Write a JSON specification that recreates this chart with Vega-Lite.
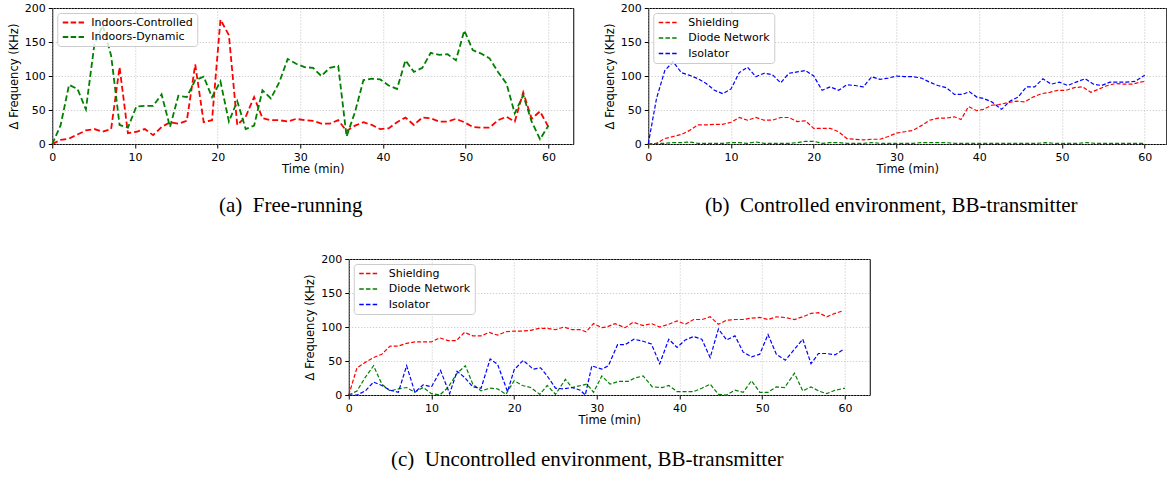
{
  "$schema": "https://vega.github.io/schema/vega-lite/v6.json",
  "padding": {"left": 7, "top": 1, "right": 0, "bottom": 0},
  "background": "white",
  "spacing": 36,
  "center": true,
  "resolve": {"scale": {"color": "independent", "x": "independent", "y": "independent"}, "legend": {"color": "independent"}},
  "config": {
    "view": {"stroke": "black", "strokeWidth": 1},
    "font": "DejaVu Sans",
    "axis": {
      "labelFont": "DejaVu Sans", "labelFontSize": 11, "labelColor": "black",
      "titleFont": "DejaVu Sans", "titleFontSize": 11.5, "titleFontWeight": "normal", "titleColor": "black",
      "tickColor": "black", "tickSize": 4, "labelPadding": 3, "domain": false,
      "gridColor": "#b0b0b0", "gridDash": [1, 2], "gridWidth": 0.8, "labelFlush": false
    },
    "axisX": {"titlePadding": 1},
    "axisY": {"titlePadding": 5},
    "legend": {
      "orient": "top-left", "offset": 5, "padding": 4, "strokeColor": "#cccccc",
      "fillColor": "rgba(255,255,255,0.8)", "cornerRadius": 3,
      "labelFont": "DejaVu Sans", "labelFontSize": 11, "labelColor": "black",
      "symbolType": "M-1,0H4", "symbolSize": 64, "labelOffset": 20, "rowPadding": 3.5
    },
    "title": {"font": "Liberation Serif", "fontSize": 21, "fontWeight": "normal", "color": "black", "orient": "bottom", "anchor": "middle", "frame": "bounds", "offset": 20}
  },
  "vconcat": [
    {
      "hconcat": [
        {
          "width": 521, "height": 136,
          "title": {"text": "(a)\u2002Free-running"},
          "data": {"values": [
            {"t":0,"v":0,"s":"Indoors-Controlled"},{"t":1.02,"v":6,"s":"Indoors-Controlled"},{"t":2.03,"v":8,"s":"Indoors-Controlled"},{"t":3.05,"v":14,"s":"Indoors-Controlled"},{"t":4.07,"v":20,"s":"Indoors-Controlled"},{"t":5.08,"v":22,"s":"Indoors-Controlled"},{"t":6.1,"v":18,"s":"Indoors-Controlled"},{"t":7.12,"v":22,"s":"Indoors-Controlled"},{"t":8.14,"v":113,"s":"Indoors-Controlled"},{"t":9.15,"v":16,"s":"Indoors-Controlled"},
            {"t":10.17,"v":18,"s":"Indoors-Controlled"},{"t":11.19,"v":22,"s":"Indoors-Controlled"},{"t":12.2,"v":13,"s":"Indoors-Controlled"},{"t":13.22,"v":25,"s":"Indoors-Controlled"},{"t":14.24,"v":32,"s":"Indoors-Controlled"},{"t":15.25,"v":30,"s":"Indoors-Controlled"},{"t":16.27,"v":34,"s":"Indoors-Controlled"},{"t":17.29,"v":117,"s":"Indoors-Controlled"},{"t":18.31,"v":32,"s":"Indoors-Controlled"},{"t":19.32,"v":35,"s":"Indoors-Controlled"},
            {"t":20.34,"v":183,"s":"Indoors-Controlled"},{"t":21.36,"v":160,"s":"Indoors-Controlled"},{"t":22.37,"v":28,"s":"Indoors-Controlled"},{"t":23.39,"v":40,"s":"Indoors-Controlled"},{"t":24.41,"v":69,"s":"Indoors-Controlled"},{"t":25.42,"v":38,"s":"Indoors-Controlled"},{"t":26.44,"v":35,"s":"Indoors-Controlled"},{"t":27.46,"v":35,"s":"Indoors-Controlled"},{"t":28.47,"v":33,"s":"Indoors-Controlled"},{"t":29.49,"v":37,"s":"Indoors-Controlled"},
            {"t":30.51,"v":35,"s":"Indoors-Controlled"},{"t":31.53,"v":34,"s":"Indoors-Controlled"},{"t":32.54,"v":30,"s":"Indoors-Controlled"},{"t":33.56,"v":30,"s":"Indoors-Controlled"},{"t":34.58,"v":35,"s":"Indoors-Controlled"},{"t":35.59,"v":19,"s":"Indoors-Controlled"},{"t":36.61,"v":27,"s":"Indoors-Controlled"},{"t":37.63,"v":32,"s":"Indoors-Controlled"},{"t":38.64,"v":28,"s":"Indoors-Controlled"},{"t":39.66,"v":22,"s":"Indoors-Controlled"},
            {"t":40.68,"v":23,"s":"Indoors-Controlled"},{"t":41.69,"v":32,"s":"Indoors-Controlled"},{"t":42.71,"v":39,"s":"Indoors-Controlled"},{"t":43.73,"v":28,"s":"Indoors-Controlled"},{"t":44.75,"v":39,"s":"Indoors-Controlled"},{"t":45.76,"v":38,"s":"Indoors-Controlled"},{"t":46.78,"v":33,"s":"Indoors-Controlled"},{"t":47.8,"v":33,"s":"Indoors-Controlled"},{"t":48.81,"v":37,"s":"Indoors-Controlled"},{"t":49.83,"v":32,"s":"Indoors-Controlled"},
            {"t":50.85,"v":25,"s":"Indoors-Controlled"},{"t":51.86,"v":24,"s":"Indoors-Controlled"},{"t":52.88,"v":24,"s":"Indoors-Controlled"},{"t":53.9,"v":35,"s":"Indoors-Controlled"},{"t":54.92,"v":40,"s":"Indoors-Controlled"},{"t":55.93,"v":33,"s":"Indoors-Controlled"},{"t":56.95,"v":76,"s":"Indoors-Controlled"},{"t":57.97,"v":37,"s":"Indoors-Controlled"},{"t":58.98,"v":48,"s":"Indoors-Controlled"},{"t":60,"v":25,"s":"Indoors-Controlled"},
            {"t":0,"v":0,"s":"Indoors-Dynamic"},{"t":1.02,"v":28,"s":"Indoors-Dynamic"},{"t":2.03,"v":87,"s":"Indoors-Dynamic"},{"t":3.05,"v":81,"s":"Indoors-Dynamic"},{"t":4.07,"v":51,"s":"Indoors-Dynamic"},{"t":5.08,"v":145,"s":"Indoors-Dynamic"},{"t":6.1,"v":175,"s":"Indoors-Dynamic"},{"t":7.12,"v":130,"s":"Indoors-Dynamic"},{"t":8.14,"v":28,"s":"Indoors-Dynamic"},{"t":9.15,"v":24,"s":"Indoors-Dynamic"},
            {"t":10.17,"v":55,"s":"Indoors-Dynamic"},{"t":11.19,"v":56,"s":"Indoors-Dynamic"},{"t":12.2,"v":56,"s":"Indoors-Dynamic"},{"t":13.22,"v":73,"s":"Indoors-Dynamic"},{"t":14.24,"v":25,"s":"Indoors-Dynamic"},{"t":15.25,"v":71,"s":"Indoors-Dynamic"},{"t":16.27,"v":69,"s":"Indoors-Dynamic"},{"t":17.29,"v":94,"s":"Indoors-Dynamic"},{"t":18.31,"v":99,"s":"Indoors-Dynamic"},{"t":19.32,"v":69,"s":"Indoors-Dynamic"},
            {"t":20.34,"v":92,"s":"Indoors-Dynamic"},{"t":21.36,"v":33,"s":"Indoors-Dynamic"},{"t":22.37,"v":63,"s":"Indoors-Dynamic"},{"t":23.39,"v":22,"s":"Indoors-Dynamic"},{"t":24.41,"v":27,"s":"Indoors-Dynamic"},{"t":25.42,"v":79,"s":"Indoors-Dynamic"},{"t":26.44,"v":67,"s":"Indoors-Dynamic"},{"t":27.46,"v":91,"s":"Indoors-Dynamic"},{"t":28.47,"v":125,"s":"Indoors-Dynamic"},{"t":29.49,"v":118,"s":"Indoors-Dynamic"},
            {"t":30.51,"v":113,"s":"Indoors-Dynamic"},{"t":31.53,"v":112,"s":"Indoors-Dynamic"},{"t":32.54,"v":100,"s":"Indoors-Dynamic"},{"t":33.56,"v":112,"s":"Indoors-Dynamic"},{"t":34.58,"v":115,"s":"Indoors-Dynamic"},{"t":35.59,"v":11,"s":"Indoors-Dynamic"},{"t":36.61,"v":47,"s":"Indoors-Dynamic"},{"t":37.63,"v":94,"s":"Indoors-Dynamic"},{"t":38.64,"v":96,"s":"Indoors-Dynamic"},{"t":39.66,"v":95,"s":"Indoors-Dynamic"},
            {"t":40.68,"v":86,"s":"Indoors-Dynamic"},{"t":41.69,"v":81,"s":"Indoors-Dynamic"},{"t":42.71,"v":123,"s":"Indoors-Dynamic"},{"t":43.73,"v":106,"s":"Indoors-Dynamic"},{"t":44.75,"v":112,"s":"Indoors-Dynamic"},{"t":45.76,"v":134,"s":"Indoors-Dynamic"},{"t":46.78,"v":131,"s":"Indoors-Dynamic"},{"t":47.8,"v":132,"s":"Indoors-Dynamic"},{"t":48.81,"v":123,"s":"Indoors-Dynamic"},{"t":49.83,"v":167,"s":"Indoors-Dynamic"},
            {"t":50.85,"v":138,"s":"Indoors-Dynamic"},{"t":51.86,"v":133,"s":"Indoors-Dynamic"},{"t":52.88,"v":126,"s":"Indoors-Dynamic"},{"t":53.9,"v":106,"s":"Indoors-Dynamic"},{"t":54.92,"v":89,"s":"Indoors-Dynamic"},{"t":55.93,"v":45,"s":"Indoors-Dynamic"},{"t":56.95,"v":72,"s":"Indoors-Dynamic"},{"t":57.97,"v":33,"s":"Indoors-Dynamic"},{"t":58.98,"v":7,"s":"Indoors-Dynamic"},{"t":60,"v":27,"s":"Indoors-Dynamic"}
          ]},
          "mark": {"type": "line", "strokeWidth": 1.8, "strokeDash": [6, 3]},
          "encoding": {
            "x": {"field": "t", "type": "quantitative", "scale": {"domain": [0, 63], "nice": false, "zero": false}, "axis": {"title": "Time (min)", "values": [0, 10, 20, 30, 40, 50, 60]}},
            "y": {"field": "v", "type": "quantitative", "scale": {"domain": [0, 200], "nice": false}, "axis": {"title": "Δ Frequency (KHz)", "values": [0, 50, 100, 150, 200]}},
            "color": {"field": "s", "type": "nominal", "scale": {"domain": ["Indoors-Controlled", "Indoors-Dynamic"], "range": ["red", "green"]}, "legend": {"title": null, "symbolDash": [5.5, 2.4], "symbolStrokeWidth": 1.8, "symbolType": "M-1,0H4.5", "labelOffset": 19, "rowPadding": 2.5}}
          }
        },
        {
          "width": 518, "height": 136,
          "title": {"text": "(b)\u2002Controlled environment, BB-transmitter", "dx": 6},
          "data": {"values": [
            {"t":0,"v":0,"s":"Shielding"},{"t":1,"v":1,"s":"Shielding"},{"t":2,"v":8,"s":"Shielding"},{"t":3,"v":11,"s":"Shielding"},{"t":4,"v":14,"s":"Shielding"},{"t":5,"v":20,"s":"Shielding"},{"t":6,"v":28,"s":"Shielding"},{"t":7,"v":28,"s":"Shielding"},{"t":8,"v":29,"s":"Shielding"},{"t":9,"v":29,"s":"Shielding"},
            {"t":10,"v":32,"s":"Shielding"},{"t":11,"v":39,"s":"Shielding"},{"t":12,"v":35,"s":"Shielding"},{"t":13,"v":39,"s":"Shielding"},{"t":14,"v":35,"s":"Shielding"},{"t":15,"v":35,"s":"Shielding"},{"t":16,"v":39,"s":"Shielding"},{"t":17,"v":39,"s":"Shielding"},{"t":18,"v":33,"s":"Shielding"},{"t":19,"v":34,"s":"Shielding"},
            {"t":20,"v":23,"s":"Shielding"},{"t":21,"v":23,"s":"Shielding"},{"t":22,"v":23,"s":"Shielding"},{"t":23,"v":18,"s":"Shielding"},{"t":24,"v":8,"s":"Shielding"},{"t":25,"v":7,"s":"Shielding"},{"t":26,"v":6,"s":"Shielding"},{"t":27,"v":7,"s":"Shielding"},{"t":28,"v":7,"s":"Shielding"},{"t":29,"v":11,"s":"Shielding"},
            {"t":30,"v":16,"s":"Shielding"},{"t":31,"v":18,"s":"Shielding"},{"t":32,"v":20,"s":"Shielding"},{"t":33,"v":27,"s":"Shielding"},{"t":34,"v":35,"s":"Shielding"},{"t":35,"v":38,"s":"Shielding"},{"t":36,"v":38,"s":"Shielding"},{"t":37,"v":40,"s":"Shielding"},{"t":37.8,"v":36,"s":"Shielding"},{"t":38.7,"v":55,"s":"Shielding"},
            {"t":39.7,"v":49,"s":"Shielding"},{"t":40.5,"v":51,"s":"Shielding"},{"t":41.5,"v":57,"s":"Shielding"},{"t":42.4,"v":58,"s":"Shielding"},{"t":43.5,"v":61,"s":"Shielding"},{"t":44.5,"v":63,"s":"Shielding"},{"t":45.5,"v":62,"s":"Shielding"},{"t":46.5,"v":69,"s":"Shielding"},{"t":47.5,"v":74,"s":"Shielding"},{"t":48.5,"v":76,"s":"Shielding"},
            {"t":49.5,"v":79,"s":"Shielding"},{"t":50.5,"v":79,"s":"Shielding"},{"t":51.5,"v":83,"s":"Shielding"},{"t":52.5,"v":84,"s":"Shielding"},{"t":53.5,"v":76,"s":"Shielding"},{"t":54.5,"v":81,"s":"Shielding"},{"t":55.5,"v":86,"s":"Shielding"},{"t":56.5,"v":89,"s":"Shielding"},{"t":57.5,"v":88,"s":"Shielding"},{"t":58.5,"v":88,"s":"Shielding"},{"t":59.5,"v":91,"s":"Shielding"},{"t":60,"v":92,"s":"Shielding"},
            {"t":0,"v":0,"s":"Diode Network"},{"t":1,"v":1,"s":"Diode Network"},{"t":2,"v":1,"s":"Diode Network"},{"t":3,"v":2,"s":"Diode Network"},{"t":4,"v":2,"s":"Diode Network"},{"t":5,"v":3,"s":"Diode Network"},{"t":6,"v":1,"s":"Diode Network"},{"t":7,"v":1,"s":"Diode Network"},{"t":8,"v":1,"s":"Diode Network"},{"t":9,"v":1,"s":"Diode Network"},
            {"t":10,"v":2,"s":"Diode Network"},{"t":11,"v":2,"s":"Diode Network"},{"t":12,"v":1,"s":"Diode Network"},{"t":13,"v":3,"s":"Diode Network"},{"t":14,"v":1,"s":"Diode Network"},{"t":15,"v":1,"s":"Diode Network"},{"t":16,"v":1,"s":"Diode Network"},{"t":17,"v":1,"s":"Diode Network"},{"t":18,"v":2,"s":"Diode Network"},{"t":19,"v":4,"s":"Diode Network"},
            {"t":20,"v":4,"s":"Diode Network"},{"t":21,"v":1,"s":"Diode Network"},{"t":22,"v":2,"s":"Diode Network"},{"t":23,"v":2,"s":"Diode Network"},{"t":24,"v":1,"s":"Diode Network"},{"t":25,"v":1,"s":"Diode Network"},{"t":26,"v":1,"s":"Diode Network"},{"t":27,"v":2,"s":"Diode Network"},{"t":28,"v":1,"s":"Diode Network"},{"t":29,"v":1,"s":"Diode Network"},
            {"t":30,"v":1,"s":"Diode Network"},{"t":31,"v":1,"s":"Diode Network"},{"t":32,"v":1,"s":"Diode Network"},{"t":33,"v":2,"s":"Diode Network"},{"t":34,"v":2,"s":"Diode Network"},{"t":35,"v":2,"s":"Diode Network"},{"t":36,"v":2,"s":"Diode Network"},{"t":37,"v":1,"s":"Diode Network"},{"t":38,"v":1,"s":"Diode Network"},{"t":39,"v":1,"s":"Diode Network"},
            {"t":40,"v":1,"s":"Diode Network"},{"t":41,"v":1,"s":"Diode Network"},{"t":42,"v":1,"s":"Diode Network"},{"t":43,"v":1,"s":"Diode Network"},{"t":44,"v":1,"s":"Diode Network"},{"t":45,"v":1,"s":"Diode Network"},{"t":46,"v":1,"s":"Diode Network"},{"t":47,"v":1,"s":"Diode Network"},{"t":48,"v":2,"s":"Diode Network"},{"t":49,"v":1,"s":"Diode Network"},
            {"t":50,"v":1,"s":"Diode Network"},{"t":51,"v":1,"s":"Diode Network"},{"t":52,"v":1,"s":"Diode Network"},{"t":53,"v":2,"s":"Diode Network"},{"t":54,"v":1,"s":"Diode Network"},{"t":55,"v":1,"s":"Diode Network"},{"t":56,"v":1,"s":"Diode Network"},{"t":57,"v":1,"s":"Diode Network"},{"t":58,"v":1,"s":"Diode Network"},{"t":59,"v":1,"s":"Diode Network"},{"t":60,"v":1,"s":"Diode Network"},
            {"t":0,"v":0,"s":"Isolator"},{"t":1,"v":67,"s":"Isolator"},{"t":2,"v":108,"s":"Isolator"},{"t":3,"v":121,"s":"Isolator"},{"t":4,"v":105,"s":"Isolator"},{"t":5,"v":101,"s":"Isolator"},{"t":6,"v":96,"s":"Isolator"},{"t":7,"v":89,"s":"Isolator"},{"t":8,"v":79,"s":"Isolator"},{"t":9,"v":74,"s":"Isolator"},
            {"t":10,"v":81,"s":"Isolator"},{"t":11,"v":105,"s":"Isolator"},{"t":12,"v":113,"s":"Isolator"},{"t":13,"v":99,"s":"Isolator"},{"t":14,"v":104,"s":"Isolator"},{"t":15,"v":102,"s":"Isolator"},{"t":16,"v":90,"s":"Isolator"},{"t":17,"v":104,"s":"Isolator"},{"t":18,"v":106,"s":"Isolator"},{"t":19,"v":108,"s":"Isolator"},
            {"t":20,"v":100,"s":"Isolator"},{"t":21,"v":79,"s":"Isolator"},{"t":22,"v":84,"s":"Isolator"},{"t":23,"v":79,"s":"Isolator"},{"t":24,"v":87,"s":"Isolator"},{"t":25,"v":86,"s":"Isolator"},{"t":26,"v":84,"s":"Isolator"},{"t":27,"v":99,"s":"Isolator"},{"t":28,"v":95,"s":"Isolator"},{"t":29,"v":97,"s":"Isolator"},
            {"t":30,"v":100,"s":"Isolator"},{"t":31,"v":99,"s":"Isolator"},{"t":32,"v":99,"s":"Isolator"},{"t":33,"v":97,"s":"Isolator"},{"t":34,"v":91,"s":"Isolator"},{"t":35,"v":86,"s":"Isolator"},{"t":36,"v":83,"s":"Isolator"},{"t":37,"v":73,"s":"Isolator"},{"t":38,"v":73,"s":"Isolator"},{"t":38.8,"v":77,"s":"Isolator"},
            {"t":39.7,"v":69,"s":"Isolator"},{"t":40.5,"v":67,"s":"Isolator"},{"t":41.5,"v":62,"s":"Isolator"},{"t":42.7,"v":51,"s":"Isolator"},{"t":43.7,"v":63,"s":"Isolator"},{"t":44.7,"v":69,"s":"Isolator"},{"t":45.7,"v":84,"s":"Isolator"},{"t":46.7,"v":84,"s":"Isolator"},{"t":47.7,"v":96,"s":"Isolator"},{"t":48.7,"v":88,"s":"Isolator"},
            {"t":49.7,"v":91,"s":"Isolator"},{"t":50.7,"v":86,"s":"Isolator"},{"t":51.7,"v":91,"s":"Isolator"},{"t":52.8,"v":96,"s":"Isolator"},{"t":53.8,"v":88,"s":"Isolator"},{"t":54.8,"v":86,"s":"Isolator"},{"t":55.8,"v":91,"s":"Isolator"},{"t":56.8,"v":91,"s":"Isolator"},{"t":57.8,"v":91,"s":"Isolator"},{"t":58.8,"v":92,"s":"Isolator"},{"t":60,"v":101,"s":"Isolator"}
          ]},
          "mark": {"type": "line", "strokeWidth": 1.2, "strokeDash": [4, 2]},
          "encoding": {
            "x": {"field": "t", "type": "quantitative", "scale": {"domain": [0, 62.6], "nice": false, "zero": false}, "axis": {"title": "Time (min)", "values": [0, 10, 20, 30, 40, 50, 60]}},
            "y": {"field": "v", "type": "quantitative", "scale": {"domain": [0, 200], "nice": false}, "axis": {"title": "Δ Frequency (KHz)", "values": [0, 50, 100, 150, 200]}},
            "color": {"field": "s", "type": "nominal", "scale": {"domain": ["Shielding", "Diode Network", "Isolator"], "range": ["red", "green", "blue"]}, "legend": {"title": null, "symbolDash": [4.5, 2.2], "symbolStrokeWidth": 1.3}}
          }
        }
      ],
      "spacing": 29,
      "resolve": {"scale": {"color": "independent", "x": "independent", "y": "independent"}, "legend": {"color": "independent"}}
    },
    {
      "width": 521, "height": 136,
      "title": {"text": "(c)\u2002Uncontrolled environment, BB-transmitter", "offset": 23},
      "data": {"values": [
        {"t":0,"v":0,"s":"Shielding"},{"t":1,"v":40,"s":"Shielding"},{"t":2,"v":48,"s":"Shielding"},{"t":3,"v":55,"s":"Shielding"},{"t":4,"v":60,"s":"Shielding"},{"t":5,"v":72,"s":"Shielding"},{"t":6,"v":72,"s":"Shielding"},{"t":7,"v":76,"s":"Shielding"},{"t":8,"v":78,"s":"Shielding"},{"t":9,"v":78,"s":"Shielding"},
        {"t":10,"v":78,"s":"Shielding"},{"t":11,"v":84,"s":"Shielding"},{"t":12,"v":80,"s":"Shielding"},{"t":13,"v":80,"s":"Shielding"},{"t":14,"v":92,"s":"Shielding"},{"t":15,"v":87,"s":"Shielding"},{"t":16,"v":87,"s":"Shielding"},{"t":17,"v":92,"s":"Shielding"},{"t":18,"v":88,"s":"Shielding"},{"t":19,"v":93,"s":"Shielding"},
        {"t":20,"v":94,"s":"Shielding"},{"t":21,"v":94,"s":"Shielding"},{"t":22,"v":95,"s":"Shielding"},{"t":23,"v":98,"s":"Shielding"},{"t":24,"v":98,"s":"Shielding"},{"t":25,"v":96,"s":"Shielding"},{"t":26,"v":100,"s":"Shielding"},{"t":27,"v":96,"s":"Shielding"},{"t":28,"v":96,"s":"Shielding"},{"t":28.7,"v":93,"s":"Shielding"},
        {"t":29.6,"v":105,"s":"Shielding"},{"t":30.6,"v":99,"s":"Shielding"},{"t":31.2,"v":100,"s":"Shielding"},{"t":32.2,"v":105,"s":"Shielding"},{"t":33.4,"v":99,"s":"Shielding"},{"t":34.4,"v":107,"s":"Shielding"},{"t":35.6,"v":102,"s":"Shielding"},{"t":36.6,"v":105,"s":"Shielding"},{"t":37.6,"v":100,"s":"Shielding"},{"t":38.7,"v":104,"s":"Shielding"},
        {"t":39.7,"v":109,"s":"Shielding"},{"t":40.7,"v":104,"s":"Shielding"},{"t":41.7,"v":111,"s":"Shielding"},{"t":42.7,"v":111,"s":"Shielding"},{"t":43.7,"v":115,"s":"Shielding"},{"t":44.7,"v":104,"s":"Shielding"},{"t":45.7,"v":110,"s":"Shielding"},{"t":46.7,"v":111,"s":"Shielding"},{"t":47.7,"v":111,"s":"Shielding"},{"t":48.7,"v":113,"s":"Shielding"},
        {"t":49.7,"v":114,"s":"Shielding"},{"t":50.7,"v":111,"s":"Shielding"},{"t":51.7,"v":115,"s":"Shielding"},{"t":52.7,"v":114,"s":"Shielding"},{"t":53.9,"v":111,"s":"Shielding"},{"t":54.9,"v":115,"s":"Shielding"},{"t":55.9,"v":120,"s":"Shielding"},{"t":56.8,"v":121,"s":"Shielding"},{"t":57.8,"v":115,"s":"Shielding"},{"t":58.8,"v":120,"s":"Shielding"},{"t":59.8,"v":124,"s":"Shielding"},
        {"t":0,"v":0,"s":"Diode Network"},{"t":1,"v":6,"s":"Diode Network"},{"t":2,"v":26,"s":"Diode Network"},{"t":3,"v":43,"s":"Diode Network"},{"t":4,"v":16,"s":"Diode Network"},{"t":5,"v":6,"s":"Diode Network"},{"t":6,"v":9,"s":"Diode Network"},{"t":7,"v":11,"s":"Diode Network"},{"t":8,"v":4,"s":"Diode Network"},{"t":9,"v":11,"s":"Diode Network"},
        {"t":10,"v":2,"s":"Diode Network"},{"t":11,"v":0,"s":"Diode Network"},{"t":12,"v":11,"s":"Diode Network"},{"t":13.1,"v":32,"s":"Diode Network"},{"t":14.1,"v":43,"s":"Diode Network"},{"t":15,"v":16,"s":"Diode Network"},{"t":16,"v":6,"s":"Diode Network"},{"t":17.1,"v":10,"s":"Diode Network"},{"t":18,"v":9,"s":"Diode Network"},{"t":19,"v":1,"s":"Diode Network"},
        {"t":20,"v":21,"s":"Diode Network"},{"t":21,"v":14,"s":"Diode Network"},{"t":22,"v":11,"s":"Diode Network"},{"t":23.1,"v":1,"s":"Diode Network"},{"t":24,"v":14,"s":"Diode Network"},{"t":25,"v":1,"s":"Diode Network"},{"t":26.2,"v":23,"s":"Diode Network"},{"t":27,"v":11,"s":"Diode Network"},{"t":28.8,"v":16,"s":"Diode Network"},{"t":29.6,"v":4,"s":"Diode Network"},
        {"t":30.6,"v":28,"s":"Diode Network"},{"t":31.6,"v":16,"s":"Diode Network"},{"t":32.6,"v":20,"s":"Diode Network"},{"t":33.8,"v":20,"s":"Diode Network"},{"t":34.6,"v":25,"s":"Diode Network"},{"t":35.6,"v":28,"s":"Diode Network"},{"t":36.7,"v":12,"s":"Diode Network"},{"t":37.9,"v":11,"s":"Diode Network"},{"t":38.7,"v":14,"s":"Diode Network"},{"t":39.7,"v":5,"s":"Diode Network"},
        {"t":40.7,"v":5,"s":"Diode Network"},{"t":41.7,"v":5,"s":"Diode Network"},{"t":42.7,"v":10,"s":"Diode Network"},{"t":43.7,"v":16,"s":"Diode Network"},{"t":44.7,"v":1,"s":"Diode Network"},{"t":45.7,"v":0,"s":"Diode Network"},{"t":46.7,"v":7,"s":"Diode Network"},{"t":47.7,"v":4,"s":"Diode Network"},{"t":48.7,"v":21,"s":"Diode Network"},{"t":49.7,"v":4,"s":"Diode Network"},
        {"t":50.7,"v":4,"s":"Diode Network"},{"t":51.7,"v":12,"s":"Diode Network"},{"t":52.7,"v":11,"s":"Diode Network"},{"t":53.9,"v":32,"s":"Diode Network"},{"t":54.9,"v":6,"s":"Diode Network"},{"t":55.9,"v":12,"s":"Diode Network"},{"t":56.8,"v":6,"s":"Diode Network"},{"t":57.8,"v":2,"s":"Diode Network"},{"t":58.8,"v":7,"s":"Diode Network"},{"t":60,"v":10,"s":"Diode Network"},
        {"t":0,"v":0,"s":"Isolator"},{"t":1,"v":0,"s":"Isolator"},{"t":2,"v":6,"s":"Isolator"},{"t":3,"v":19,"s":"Isolator"},{"t":4,"v":14,"s":"Isolator"},{"t":5,"v":7,"s":"Isolator"},{"t":6,"v":4,"s":"Isolator"},{"t":7,"v":43,"s":"Isolator"},{"t":8,"v":4,"s":"Isolator"},{"t":9,"v":15,"s":"Isolator"},
        {"t":10,"v":12,"s":"Isolator"},{"t":11.1,"v":36,"s":"Isolator"},{"t":12.2,"v":2,"s":"Isolator"},{"t":13.1,"v":35,"s":"Isolator"},{"t":14,"v":26,"s":"Isolator"},{"t":15,"v":12,"s":"Isolator"},{"t":16,"v":10,"s":"Isolator"},{"t":17.1,"v":53,"s":"Isolator"},{"t":18,"v":45,"s":"Isolator"},{"t":19.2,"v":5,"s":"Isolator"},
        {"t":20,"v":37,"s":"Isolator"},{"t":21.1,"v":51,"s":"Isolator"},{"t":22.3,"v":38,"s":"Isolator"},{"t":23.2,"v":40,"s":"Isolator"},{"t":24,"v":28,"s":"Isolator"},{"t":25,"v":10,"s":"Isolator"},{"t":26,"v":9,"s":"Isolator"},{"t":27,"v":11,"s":"Isolator"},{"t":28,"v":7,"s":"Isolator"},{"t":28.6,"v":0,"s":"Isolator"},
        {"t":29.4,"v":43,"s":"Isolator"},{"t":30.1,"v":40,"s":"Isolator"},{"t":30.6,"v":38,"s":"Isolator"},{"t":31.4,"v":43,"s":"Isolator"},{"t":32.5,"v":74,"s":"Isolator"},{"t":33.4,"v":74,"s":"Isolator"},{"t":34.5,"v":82,"s":"Isolator"},{"t":35.6,"v":79,"s":"Isolator"},{"t":36.6,"v":75,"s":"Isolator"},{"t":37.6,"v":46,"s":"Isolator"},
        {"t":38.7,"v":82,"s":"Isolator"},{"t":39.7,"v":70,"s":"Isolator"},{"t":40.7,"v":81,"s":"Isolator"},{"t":41.7,"v":86,"s":"Isolator"},{"t":42.7,"v":82,"s":"Isolator"},{"t":43.7,"v":55,"s":"Isolator"},{"t":44.7,"v":97,"s":"Isolator"},{"t":45.7,"v":81,"s":"Isolator"},{"t":46.7,"v":87,"s":"Isolator"},{"t":47.7,"v":63,"s":"Isolator"},
        {"t":48.7,"v":56,"s":"Isolator"},{"t":49.7,"v":60,"s":"Isolator"},{"t":50.7,"v":89,"s":"Isolator"},{"t":51.7,"v":60,"s":"Isolator"},{"t":52.8,"v":51,"s":"Isolator"},{"t":53.8,"v":66,"s":"Isolator"},{"t":54.9,"v":82,"s":"Isolator"},{"t":55.9,"v":46,"s":"Isolator"},{"t":56.8,"v":61,"s":"Isolator"},{"t":57.8,"v":61,"s":"Isolator"},{"t":58.8,"v":59,"s":"Isolator"},{"t":59.8,"v":67,"s":"Isolator"}
      ]},
      "mark": {"type": "line", "strokeWidth": 1.2, "strokeDash": [4, 2]},
      "encoding": {
        "x": {"field": "t", "type": "quantitative", "scale": {"domain": [0, 63], "nice": false, "zero": false}, "axis": {"title": "Time (min)", "values": [0, 10, 20, 30, 40, 50, 60]}},
        "y": {"field": "v", "type": "quantitative", "scale": {"domain": [0, 200], "nice": false}, "axis": {"title": "Δ Frequency (KHz)", "values": [0, 50, 100, 150, 200]}},
        "color": {"field": "s", "type": "nominal", "scale": {"domain": ["Shielding", "Diode Network", "Isolator"], "range": ["red", "green", "blue"]}, "legend": {"title": null, "symbolDash": [4.5, 2.2], "symbolStrokeWidth": 1.3}}
      }
    }
  ]
}
